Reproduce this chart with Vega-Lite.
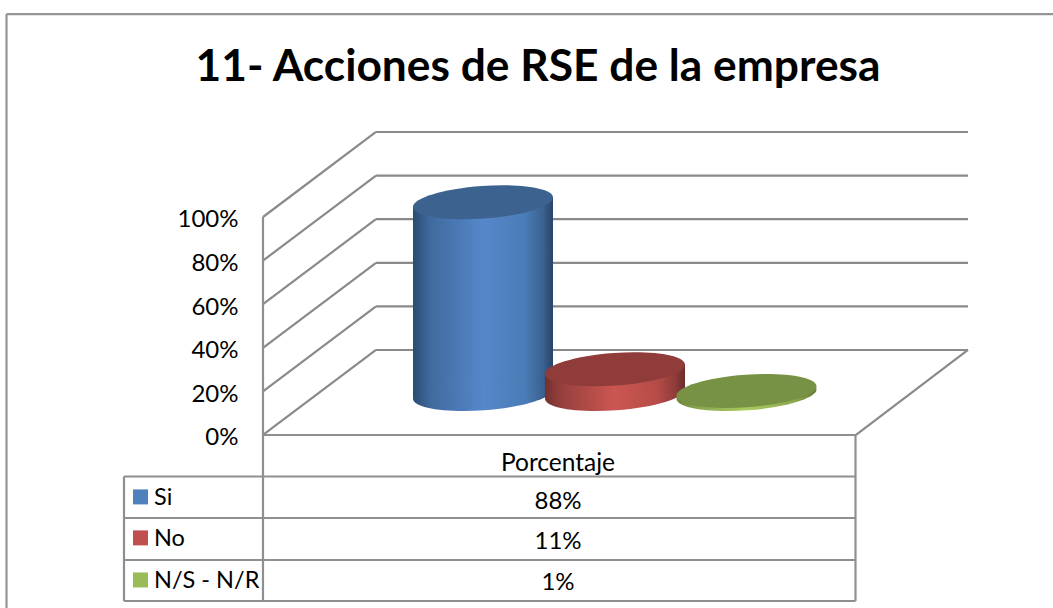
{
"$schema":"https://vega.github.io/schema/vega-lite/v6.json",
"autosize":"none","padding":0,"width":1053,"height":608,
"background":"white",
"title":{"text":"11- Acciones de RSE de la empresa","font":"Lato","fontSize":44.3,"fontWeight":"bold","color":"#000000","anchor":"middle","frame":"group","dx":11.5,"offset":-134,"baseline":"bottom"},
"config":{"view":{"stroke":null}},
"datasets":{
"lineas":[
{"grupo":"marco","x":6.5,"y":193.1,"x2":1053,"y2":193.1},
{"grupo":"marco","x":6.5,"y":193.1,"x2":6.5,"y2":-79.36},
{"grupo":"rejilla","x":263,"y":100,"x2":376,"y2":139},
{"grupo":"rejilla","x":263,"y":80,"x2":376,"y2":119},
{"grupo":"rejilla","x":263,"y":60,"x2":376,"y2":99},
{"grupo":"rejilla","x":263,"y":40,"x2":376,"y2":79},
{"grupo":"rejilla","x":263,"y":20,"x2":376,"y2":59},
{"grupo":"rejilla","x":263,"y":0,"x2":376,"y2":39},
{"grupo":"rejilla","x":376,"y":139,"x2":968,"y2":139},
{"grupo":"rejilla","x":376,"y":119,"x2":968,"y2":119},
{"grupo":"rejilla","x":376,"y":99,"x2":968,"y2":99},
{"grupo":"rejilla","x":376,"y":79,"x2":968,"y2":79},
{"grupo":"rejilla","x":376,"y":59,"x2":968,"y2":59},
{"grupo":"rejilla","x":376,"y":39,"x2":968,"y2":39},
{"grupo":"rejilla","x":856,"y":0,"x2":968,"y2":39},
{"grupo":"tabla","x":263,"y":100,"x2":263,"y2":-76.15},
{"grupo":"tabla","x":855.5,"y":0,"x2":855.5,"y2":-76.15},
{"grupo":"tabla","x":124,"y":-19.04,"x2":124,"y2":-76.15},
{"grupo":"tabla","x":263,"y":0,"x2":856,"y2":0},
{"grupo":"tabla","x":124,"y":-19.04,"x2":855.5,"y2":-19.04},
{"grupo":"tabla","x":124,"y":-38.07,"x2":855.5,"y2":-38.07},
{"grupo":"tabla","x":124,"y":-57.34,"x2":855.5,"y2":-57.34},
{"grupo":"tabla","x":124,"y":-76.15,"x2":855.5,"y2":-76.15}
],
"cilindros":[
{"serie":"Si","valor":88,"x":483,"base":18.8,"tope":106.8},
{"serie":"No","valor":11,"x":615,"base":18.8,"tope":30.2},
{"serie":"N/S - N/R","valor":1,"x":746.5,"base":18.8,"tope":20.2}
],
"lados":[
{"serie":"Si","x":413,"sup":104.9,"inf":16.9},
{"serie":"Si","x":553,"sup":108.7,"inf":20.7},
{"serie":"No","x":545,"sup":28.3,"inf":16.9},
{"serie":"No","x":685,"sup":32.1,"inf":20.7},
{"serie":"N/S - N/R","x":676.5,"sup":18.3,"inf":16.9},
{"serie":"N/S - N/R","x":816.5,"sup":22.1,"inf":20.7}
],
"tabla":[
{"serie":"Si","porcentaje":"88%","filaValor":-30.9,"filaSerie":-28.9,"filaCuadro":-28.4},
{"serie":"No","porcentaje":"11%","filaValor":-48.9,"filaSerie":-47.7,"filaCuadro":-47.2},
{"serie":"N/S - N/R","porcentaje":"1%","filaValor":-68.0,"filaSerie":-67.0,"filaCuadro":-66.5}
],
"cabecera":[{"texto":"Porcentaje","fila":-13.1}]
},
"layer":[
{"data":{"name":"lineas"},"mark":{"type":"rule","strokeWidth":2.2},
 "encoding":{
  "x":{"field":"x","type":"quantitative","scale":{"domain":[0,1053],"nice":false,"zero":false},"axis":null},
  "x2":{"field":"x2"},
  "y":{"field":"y","type":"quantitative","scale":{"domain":[-79.36,199.54],"nice":false,"zero":false},
   "axis":{"title":null,"values":[0,20,40,60,80,100],"labelExpr":"datum.value + '%'","offset":-263,"domain":false,"ticks":false,"grid":false,"labelFont":"Lato","labelFontSize":24,"labelColor":"#000000","labelPadding":25,"labelBaseline":"line-top","labelOffset":-10}},
  "y2":{"field":"y2"},
  "color":{"field":"grupo","type":"nominal","scale":{"domain":["marco","rejilla","tabla"],"range":["#959595","#8a8a8a","#8f8f8f"]},"legend":null}
 }},

{"data":{"name":"lados"},"transform":[{"filter":"datum.serie === 'Si'"}],
 "mark":{"type":"area","orient":"vertical","color":{"gradient":"linear","x1":0,"x2":1,"y1":0,"y2":0,"stops":[{"offset":0,"color":"#2b4b72"},{"offset":0.12,"color":"#3f6a9e"},{"offset":0.5,"color":"#5587cb"},{"offset":0.8,"color":"#4a7cb6"},{"offset":0.93,"color":"#3b618f"},{"offset":1,"color":"#274468"}]}},
 "encoding":{"x":{"field":"x","type":"quantitative","scale":{"domain":[0,1053],"nice":false,"zero":false},"axis":null},
  "y":{"field":"sup","type":"quantitative","stack":null,"scale":{"domain":[-79.36,199.54],"nice":false,"zero":false}},"y2":{"field":"inf"}}},
{"data":{"name":"cilindros"},"transform":[{"filter":"datum.serie === 'Si'"}],
 "mark":{"type":"point","filled":true,"opacity":1,"size":19713,"angle":-4.07,"shape":"M-1,0A1,0.232,0,1,1,1,0A1,0.232,0,1,1,-1,0Z","color":{"gradient":"linear","x1":0,"x2":1,"y1":0,"y2":0,"stops":[{"offset":0,"color":"#2b4b72"},{"offset":0.12,"color":"#3f6a9e"},{"offset":0.5,"color":"#5587cb"},{"offset":0.8,"color":"#4a7cb6"},{"offset":0.93,"color":"#3b618f"},{"offset":1,"color":"#274468"}]}},
 "encoding":{"x":{"field":"x","type":"quantitative","scale":{"domain":[0,1053],"nice":false,"zero":false},"axis":null},
  "y":{"field":"base","type":"quantitative","scale":{"domain":[-79.36,199.54],"nice":false,"zero":false}}}},
{"data":{"name":"cilindros"},"transform":[{"filter":"datum.serie === 'Si'"}],
 "mark":{"type":"point","filled":true,"opacity":1,"size":19713,"angle":-4.07,"shape":"M-1,0A1,0.232,0,1,1,1,0A1,0.232,0,1,1,-1,0Z","color":"#3c6290"},
 "encoding":{"x":{"field":"x","type":"quantitative","scale":{"domain":[0,1053],"nice":false,"zero":false},"axis":null},
  "y":{"field":"tope","type":"quantitative","scale":{"domain":[-79.36,199.54],"nice":false,"zero":false}}}},

{"data":{"name":"lados"},"transform":[{"filter":"datum.serie === 'No'"}],
 "mark":{"type":"area","orient":"vertical","color":{"gradient":"linear","x1":0,"x2":1,"y1":0,"y2":0,"stops":[{"offset":0,"color":"#74302e"},{"offset":0.12,"color":"#97403d"},{"offset":0.5,"color":"#cc5651"},{"offset":0.8,"color":"#b64c48"},{"offset":0.93,"color":"#8f3c3a"},{"offset":1,"color":"#6c2c2a"}]}},
 "encoding":{"x":{"field":"x","type":"quantitative","scale":{"domain":[0,1053],"nice":false,"zero":false},"axis":null},
  "y":{"field":"sup","type":"quantitative","stack":null,"scale":{"domain":[-79.36,199.54],"nice":false,"zero":false}},"y2":{"field":"inf"}}},
{"data":{"name":"cilindros"},"transform":[{"filter":"datum.serie === 'No'"}],
 "mark":{"type":"point","filled":true,"opacity":1,"size":19713,"angle":-4.07,"shape":"M-1,0A1,0.232,0,1,1,1,0A1,0.232,0,1,1,-1,0Z","color":{"gradient":"linear","x1":0,"x2":1,"y1":0,"y2":0,"stops":[{"offset":0,"color":"#74302e"},{"offset":0.12,"color":"#97403d"},{"offset":0.5,"color":"#cc5651"},{"offset":0.8,"color":"#b64c48"},{"offset":0.93,"color":"#8f3c3a"},{"offset":1,"color":"#6c2c2a"}]}},
 "encoding":{"x":{"field":"x","type":"quantitative","scale":{"domain":[0,1053],"nice":false,"zero":false},"axis":null},
  "y":{"field":"base","type":"quantitative","scale":{"domain":[-79.36,199.54],"nice":false,"zero":false}}}},
{"data":{"name":"cilindros"},"transform":[{"filter":"datum.serie === 'No'"}],
 "mark":{"type":"point","filled":true,"opacity":1,"size":19713,"angle":-4.07,"shape":"M-1,0A1,0.232,0,1,1,1,0A1,0.232,0,1,1,-1,0Z","color":"#8f3c3a"},
 "encoding":{"x":{"field":"x","type":"quantitative","scale":{"domain":[0,1053],"nice":false,"zero":false},"axis":null},
  "y":{"field":"tope","type":"quantitative","scale":{"domain":[-79.36,199.54],"nice":false,"zero":false}}}},

{"data":{"name":"cilindros"},"transform":[{"filter":"datum.serie === 'N/S - N/R'"}],
 "mark":{"type":"point","filled":true,"opacity":1,"size":19713,"angle":-4.07,"shape":"M-1,0A1,0.232,0,1,1,1,0A1,0.232,0,1,1,-1,0Z","color":{"gradient":"linear","x1":0,"x2":1,"y1":0,"y2":0,"stops":[{"offset":0,"color":"#6d8439"},{"offset":0.15,"color":"#8aa54c"},{"offset":0.5,"color":"#aacb5f"},{"offset":0.85,"color":"#8aa54c"},{"offset":1,"color":"#657b36"}]}},
 "encoding":{"x":{"field":"x","type":"quantitative","scale":{"domain":[0,1053],"nice":false,"zero":false},"axis":null},
  "y":{"field":"base","type":"quantitative","scale":{"domain":[-79.36,199.54],"nice":false,"zero":false}}}},
{"data":{"name":"cilindros"},"transform":[{"filter":"datum.serie === 'N/S - N/R'"}],
 "mark":{"type":"point","filled":true,"opacity":1,"size":19713,"angle":-4.07,"shape":"M-1,0A1,0.232,0,1,1,1,0A1,0.232,0,1,1,-1,0Z","color":"#779145"},
 "encoding":{"x":{"field":"x","type":"quantitative","scale":{"domain":[0,1053],"nice":false,"zero":false},"axis":null},
  "y":{"field":"tope","type":"quantitative","scale":{"domain":[-79.36,199.54],"nice":false,"zero":false}}}},

{"data":{"name":"cabecera"},"mark":{"type":"text","font":"Lato","fontSize":24.5,"color":"#000000","align":"center","baseline":"middle"},
 "encoding":{"x":{"datum":558,"type":"quantitative","scale":{"domain":[0,1053],"nice":false,"zero":false},"axis":null},
  "y":{"field":"fila","type":"quantitative","scale":{"domain":[-79.36,199.54],"nice":false,"zero":false}},
  "text":{"field":"texto"}}},
{"data":{"name":"tabla"},"mark":{"type":"text","font":"Lato","fontSize":24,"color":"#000000","align":"center","baseline":"middle"},
 "encoding":{"x":{"datum":558,"type":"quantitative","scale":{"domain":[0,1053],"nice":false,"zero":false},"axis":null},
  "y":{"field":"filaValor","type":"quantitative","scale":{"domain":[-79.36,199.54],"nice":false,"zero":false}},
  "text":{"field":"porcentaje"}}},
{"data":{"name":"tabla"},"mark":{"type":"text","font":"Lato","fontSize":23.5,"color":"#000000","align":"left","baseline":"middle"},
 "encoding":{"x":{"datum":154,"type":"quantitative","scale":{"domain":[0,1053],"nice":false,"zero":false},"axis":null},
  "y":{"field":"filaSerie","type":"quantitative","scale":{"domain":[-79.36,199.54],"nice":false,"zero":false}},
  "text":{"field":"serie"}}},
{"data":{"name":"tabla"},"mark":{"type":"point","shape":"square","filled":true,"opacity":1,"size":225},
 "encoding":{"x":{"datum":140.5,"type":"quantitative","scale":{"domain":[0,1053],"nice":false,"zero":false},"axis":null},
  "y":{"field":"filaCuadro","type":"quantitative","scale":{"domain":[-79.36,199.54],"nice":false,"zero":false}},
  "color":{"field":"serie","type":"nominal","scale":{"domain":["Si","No","N/S - N/R"],"range":["#4f81bd","#c0504d","#9bbb59"]},"legend":null}}}
],
"resolve":{"scale":{"color":"independent"}}
}
